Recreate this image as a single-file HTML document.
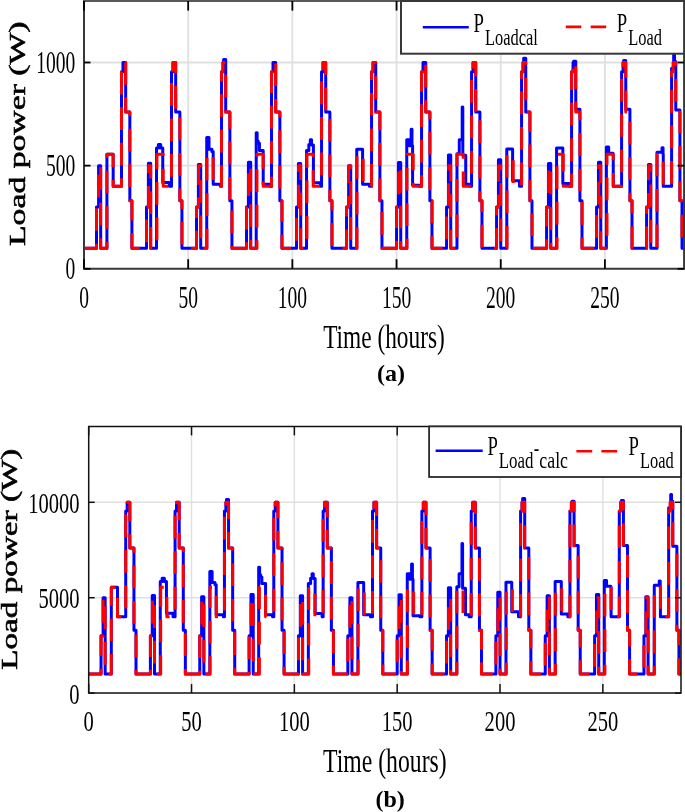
<!DOCTYPE html>
<html><head><meta charset="utf-8"><style>
html,body{margin:0;padding:0;background:#fff;}
svg{display:block;font-family:"Liberation Serif",serif;}
text{filter:grayscale(1);}
</style></head><body>
<svg width="685" height="812" viewBox="0 0 685 812">
<rect width="685" height="812" fill="#fff"/>
<g stroke="#e0e0e0" stroke-width="1.8"><line x1="188.18" y1="1.0" x2="188.18" y2="268.8"/><line x1="292.37" y1="1.0" x2="292.37" y2="268.8"/><line x1="396.55" y1="1.0" x2="396.55" y2="268.8"/><line x1="500.74" y1="1.0" x2="500.74" y2="268.8"/><line x1="604.92" y1="1.0" x2="604.92" y2="268.8"/><line x1="84" y1="165.65" x2="684.1" y2="165.65"/><line x1="84" y1="62.50" x2="684.1" y2="62.50"/></g>
<path d="M84.00,248.17H96.50V206.91H98.59V165.65H100.67V248.17H106.92V154.30H113.17V186.28H121.51V71.78H122.96V62.50H125.67V112.01H129.84V200.72H131.92V248.17H146.51V206.91H148.39V163.17H150.68V248.17H156.51V148.11H158.39V144.61H160.68V148.11H162.76V182.57H169.43V186.28H171.51V71.78H172.97V62.50H175.68V112.01H179.85V200.72H181.93V248.17H196.52V206.91H198.39V164.62H200.69V248.17H206.73V137.39H209.02V149.15H211.94V151.62H213.19V184.22H220.48V186.28H221.52V71.78H222.98V62.50H223.61V59.41H225.69V112.01H229.86V200.72H231.94V248.17H246.53V206.91H248.40V162.14H250.69V248.17H256.22V132.85H257.15V140.89H258.20V143.37H259.45V150.38H263.20V184.22H270.28V186.28H271.53V71.78H272.99V62.50H275.70V112.01H279.87V200.72H281.95V248.17H296.54V206.91H298.41V163.59H300.70V248.17H306.54V150.38H308.83V144.61H310.29V139.86H311.54V145.02H313.41V182.77H320.50V186.28H321.54V71.78H323.00V62.50H325.71V112.01H329.87V200.72H331.96V248.17H346.54V206.91H348.63V165.65H350.71V248.17H356.75V149.15H362.59V184.22H369.46V186.28H371.55V71.78H373.01V62.50H375.72V112.01H379.88V200.72H381.97V248.17H396.55V206.91H398.43V162.56H400.72V248.17H406.76V139.66H409.47V145.64H411.14V129.13H411.97V145.64H412.60V185.25H419.47V186.28H421.56V71.78H423.01V62.50H425.72V112.01H429.89V200.72H431.97V248.17H446.56V206.91H448.44V154.92H450.73V248.17H456.98V153.68H459.27V139.66H462.19V107.06H462.81V155.34H465.73V184.22H469.48V186.28H471.56V71.78H473.02V62.50H475.73V112.01H479.90V200.72H481.98V248.17H496.57V206.91H498.44V159.67H500.74V248.17H506.78V148.94H512.61V180.71H519.49V186.28H521.57V71.78H523.03V62.50H523.66V58.37H525.74V112.01H529.91V200.72H531.99V248.17H546.58V206.91H548.45V163.59H550.74V248.17H556.58V148.11H562.83V183.39H569.50V186.28H571.58V71.78H573.04V62.50H573.66V61.26H575.75V109.33H579.92V200.72H582.00V248.17H596.59V206.91H598.46V162.14H600.75V248.17H606.38V147.08H608.67V153.27H613.05V154.30H613.25V186.28H621.59V71.78H623.05V62.50H623.67V60.44H625.76V109.33H629.92V200.72H632.01V248.17H646.59V206.91H648.47V164.62H650.76V248.17H657.01V152.24H662.01V147.70H663.05V154.30H663.26V186.28H671.60V68.28H673.68V54.04H674.52V61.47H675.77V109.95H679.93V200.72H682.02V248.17H684.10" fill="none" stroke="#0000ff" stroke-width="3" stroke-linejoin="round"/>
<path d="M84.00,248.17H96.50V206.91H98.59V165.65H100.67V248.17H106.92V154.30H113.17V186.28H121.51V71.78H122.96V62.50H125.67V112.01H129.84V200.72H131.92V248.17H146.51V206.91H148.59V165.65H150.68V248.17H156.93V154.30H163.18V186.28H171.51V71.78H172.97V62.50H175.68V112.01H179.85V200.72H181.93V248.17H196.52V206.91H198.60V165.65H200.69V248.17H206.94V154.30H213.19V186.28H221.52V71.78H222.98V62.50H225.69V112.01H229.86V200.72H231.94V248.17H246.53V206.91H248.61V165.65H250.69V248.17H256.95V154.30H263.20V186.28H271.53V71.78H272.99V62.50H275.70V112.01H279.87V200.72H281.95V248.17H296.54V206.91H298.62V165.65H300.70V248.17H306.95V154.30H313.20V186.28H321.54V71.78H323.00V62.50H325.71V112.01H329.87V200.72H331.96V248.17H346.54V206.91H348.63V165.65H350.71V248.17H356.96V154.30H363.21V186.28H371.55V71.78H373.01V62.50H375.72V112.01H379.88V200.72H381.97V248.17H396.55V206.91H398.64V165.65H400.72V248.17H406.97V154.30H413.22V186.28H421.56V71.78H423.01V62.50H425.72V112.01H429.89V200.72H431.97V248.17H446.56V206.91H448.64V165.65H450.73V248.17H456.98V154.30H463.23V186.28H471.56V71.78H473.02V62.50H475.73V112.01H479.90V200.72H481.98V248.17H496.57V206.91H498.65V165.65H500.74V248.17H506.99V154.30H513.24V186.28H521.57V71.78H523.03V62.50H525.74V112.01H529.91V200.72H531.99V248.17H546.58V206.91H548.66V165.65H550.74V248.17H557.00V154.30H563.25V186.28H571.58V71.78H573.04V62.50H575.75V112.01H579.92V200.72H582.00V248.17H596.59V206.91H598.67V165.65H600.75V248.17H607.00V154.30H613.25V186.28H621.59V71.78H623.05V62.50H625.76V112.01H629.92V200.72H632.01V248.17H646.59V206.91H648.68V165.65H650.76V248.17H657.01V154.30H663.26V186.28H671.60V71.78H673.06V62.50H675.77V112.01H679.93V200.72H682.02V248.17H684.10" fill="none" stroke="#ff0000" stroke-width="3" stroke-linejoin="round" stroke-dasharray="22.7 12.8" stroke-dashoffset="5.7"/>
<path d="M84,1.0V268.8H684.1V1.0" fill="none" stroke="#383838" stroke-width="2"/>
<line x1="83.0" y1="1.0" x2="685.1" y2="1.0" stroke="#5a5a5a" stroke-width="2"/>
<g stroke="#000" stroke-width="1.8"><line x1="84.00" y1="268.8" x2="84.00" y2="259.2"/><line x1="84.00" y1="1.0" x2="84.00" y2="10.6"/><line x1="188.18" y1="268.8" x2="188.18" y2="259.2"/><line x1="188.18" y1="1.0" x2="188.18" y2="10.6"/><line x1="292.37" y1="268.8" x2="292.37" y2="259.2"/><line x1="292.37" y1="1.0" x2="292.37" y2="10.6"/><line x1="396.55" y1="268.8" x2="396.55" y2="259.2"/><line x1="396.55" y1="1.0" x2="396.55" y2="10.6"/><line x1="500.74" y1="268.8" x2="500.74" y2="259.2"/><line x1="500.74" y1="1.0" x2="500.74" y2="10.6"/><line x1="604.92" y1="268.8" x2="604.92" y2="259.2"/><line x1="604.92" y1="1.0" x2="604.92" y2="10.6"/><line x1="84" y1="268.80" x2="90.5" y2="268.80"/><line x1="684.1" y1="268.80" x2="677.6" y2="268.80"/><line x1="84" y1="165.65" x2="90.5" y2="165.65"/><line x1="684.1" y1="165.65" x2="677.6" y2="165.65"/><line x1="84" y1="62.50" x2="90.5" y2="62.50"/><line x1="684.1" y1="62.50" x2="677.6" y2="62.50"/></g>
<text transform="translate(84.00,307.6) scale(0.64,1)" text-anchor="middle" font-size="30.5">0</text>
<text transform="translate(188.18,307.6) scale(0.64,1)" text-anchor="middle" font-size="30.5">50</text>
<text transform="translate(292.37,307.6) scale(0.64,1)" text-anchor="middle" font-size="30.5">100</text>
<text transform="translate(396.55,307.6) scale(0.64,1)" text-anchor="middle" font-size="30.5">150</text>
<text transform="translate(500.74,307.6) scale(0.64,1)" text-anchor="middle" font-size="30.5">200</text>
<text transform="translate(604.92,307.6) scale(0.64,1)" text-anchor="middle" font-size="30.5">250</text>
<text transform="translate(75.3,279.20) scale(0.64,1)" text-anchor="end" font-size="30.5">0</text>
<text transform="translate(75.3,176.05) scale(0.64,1)" text-anchor="end" font-size="30.5">500</text>
<text transform="translate(75.3,72.90) scale(0.64,1)" text-anchor="end" font-size="30.5">1000</text>
<g stroke="#e0e0e0" stroke-width="1.4"><line x1="191.53" y1="426.4" x2="191.53" y2="693.1"/><line x1="294.36" y1="426.4" x2="294.36" y2="693.1"/><line x1="397.19" y1="426.4" x2="397.19" y2="693.1"/><line x1="500.02" y1="426.4" x2="500.02" y2="693.1"/><line x1="602.85" y1="426.4" x2="602.85" y2="693.1"/><line x1="88.7" y1="597.70" x2="681" y2="597.70"/><line x1="88.7" y1="502.30" x2="681" y2="502.30"/></g>
<path d="M88.70,674.02H101.04V635.86H103.10V597.70H105.15V674.02H111.32V587.21H117.49V616.78H125.72V510.89H127.16V502.30H129.83V548.09H133.95V630.14H136.00V674.02H150.40V635.86H152.25V595.41H154.51V674.02H160.27V581.48H162.12V578.24H164.38V581.48H166.44V613.35H173.02V616.78H175.08V510.89H176.52V502.30H179.19V548.09H183.30V630.14H185.36V674.02H199.76V635.86H201.61V596.75H203.87V674.02H209.83V571.56H212.10V582.44H214.98V584.73H216.21V614.87H223.41V616.78H224.44V510.89H225.88V502.30H226.49V499.44H228.55V548.09H232.66V630.14H234.72V674.02H249.11V635.86H250.97V594.46H253.23V674.02H258.68V567.36H259.60V574.80H260.63V577.09H261.87V583.58H265.57V614.87H272.56V616.78H273.79V510.89H275.23V502.30H277.91V548.09H282.02V630.14H284.08V674.02H298.47V635.86H300.32V595.79H302.59V674.02H308.34V583.58H310.61V578.24H312.05V573.85H313.28V578.62H315.13V613.54H322.12V616.78H323.15V510.89H324.59V502.30H327.27V548.09H331.38V630.14H333.44V674.02H347.83V635.86H349.89V597.70H351.94V674.02H357.91V582.44H363.67V614.87H370.45V616.78H372.51V510.89H373.95V502.30H376.62V548.09H380.74V630.14H382.79V674.02H397.19V635.86H399.04V594.84H401.30V674.02H407.27V573.66H409.94V579.19H411.59V563.93H412.41V579.19H413.03V615.83H419.81V616.78H421.87V510.89H423.31V502.30H425.98V548.09H430.10V630.14H432.15V674.02H446.55V635.86H448.40V587.78H450.66V674.02H456.83V586.63H459.09V573.66H461.97V543.51H462.59V588.16H465.47V614.87H469.17V616.78H471.23V510.89H472.67V502.30H475.34V548.09H479.45V630.14H481.51V674.02H495.91V635.86H497.76V592.17H500.02V674.02H505.98V582.25H511.74V611.63H518.53V616.78H520.59V510.89H522.03V502.30H522.64V498.48H524.70V548.09H528.81V630.14H530.87V674.02H545.26V635.86H547.12V595.79H549.38V674.02H555.14V581.48H561.31V614.11H567.89V616.78H569.94V510.89H571.38V502.30H572.00V501.16H574.06V545.61H578.17V630.14H580.23V674.02H594.62V635.86H596.47V594.46H598.74V674.02H604.29V580.53H606.55V586.25H610.87V587.21H611.08V616.78H619.30V510.89H620.74V502.30H621.36V500.39H623.42V545.61H627.53V630.14H629.59V674.02H643.98V635.86H645.83V596.75H648.09V674.02H654.26V585.30H659.20V581.10H660.23V587.21H660.43V616.78H668.66V507.64H670.72V494.48H671.54V501.35H672.77V546.18H676.89V630.14H678.94V674.02H681.00" fill="none" stroke="#0000ff" stroke-width="3" stroke-linejoin="round"/>
<path d="M88.70,674.02H101.04V635.86H103.10V597.70H105.15V674.02H111.32V587.21H117.49V616.78H125.72V510.89H127.16V502.30H129.83V548.09H133.95V630.14H136.00V674.02H150.40V635.86H152.45V597.70H154.51V674.02H160.68V587.21H166.85V616.78H175.08V510.89H176.52V502.30H179.19V548.09H183.30V630.14H185.36V674.02H199.76V635.86H201.81V597.70H203.87V674.02H210.04V587.21H216.21V616.78H224.44V510.89H225.88V502.30H228.55V548.09H232.66V630.14H234.72V674.02H249.11V635.86H251.17V597.70H253.23V674.02H259.40V587.21H265.57V616.78H273.79V510.89H275.23V502.30H277.91V548.09H282.02V630.14H284.08V674.02H298.47V635.86H300.53V597.70H302.59V674.02H308.76V587.21H314.93V616.78H323.15V510.89H324.59V502.30H327.27V548.09H331.38V630.14H333.44V674.02H347.83V635.86H349.89V597.70H351.94V674.02H358.11V587.21H364.28V616.78H372.51V510.89H373.95V502.30H376.62V548.09H380.74V630.14H382.79V674.02H397.19V635.86H399.25V597.70H401.30V674.02H407.47V587.21H413.64V616.78H421.87V510.89H423.31V502.30H425.98V548.09H430.10V630.14H432.15V674.02H446.55V635.86H448.60V597.70H450.66V674.02H456.83V587.21H463.00V616.78H471.23V510.89H472.67V502.30H475.34V548.09H479.45V630.14H481.51V674.02H495.91V635.86H497.96V597.70H500.02V674.02H506.19V587.21H512.36V616.78H520.59V510.89H522.03V502.30H524.70V548.09H528.81V630.14H530.87V674.02H545.26V635.86H547.32V597.70H549.38V674.02H555.55V587.21H561.72V616.78H569.94V510.89H571.38V502.30H574.06V548.09H578.17V630.14H580.23V674.02H594.62V635.86H596.68V597.70H598.74V674.02H604.91V587.21H611.08V616.78H619.30V510.89H620.74V502.30H623.42V548.09H627.53V630.14H629.59V674.02H643.98V635.86H646.04V597.70H648.09V674.02H654.26V587.21H660.43V616.78H668.66V510.89H670.10V502.30H672.77V548.09H676.89V630.14H678.94V674.02H681.00" fill="none" stroke="#ff0000" stroke-width="3" stroke-linejoin="round" stroke-dasharray="22.7 12.8" stroke-dashoffset="5"/>
<path d="M88.7,426.4V693.1H681V426.4" fill="none" stroke="#111" stroke-width="1.5"/>
<line x1="87.95" y1="426.4" x2="681.75" y2="426.4" stroke="#111" stroke-width="1.5"/>
<g stroke="#111" stroke-width="1.5"><line x1="88.70" y1="693.1" x2="88.70" y2="684.1"/><line x1="88.70" y1="426.4" x2="88.70" y2="435.4"/><line x1="191.53" y1="693.1" x2="191.53" y2="684.1"/><line x1="191.53" y1="426.4" x2="191.53" y2="435.4"/><line x1="294.36" y1="693.1" x2="294.36" y2="684.1"/><line x1="294.36" y1="426.4" x2="294.36" y2="435.4"/><line x1="397.19" y1="693.1" x2="397.19" y2="684.1"/><line x1="397.19" y1="426.4" x2="397.19" y2="435.4"/><line x1="500.02" y1="693.1" x2="500.02" y2="684.1"/><line x1="500.02" y1="426.4" x2="500.02" y2="435.4"/><line x1="602.85" y1="693.1" x2="602.85" y2="684.1"/><line x1="602.85" y1="426.4" x2="602.85" y2="435.4"/><line x1="88.7" y1="693.10" x2="94.7" y2="693.10"/><line x1="681" y1="693.10" x2="675" y2="693.10"/><line x1="88.7" y1="597.70" x2="94.7" y2="597.70"/><line x1="681" y1="597.70" x2="675" y2="597.70"/><line x1="88.7" y1="502.30" x2="94.7" y2="502.30"/><line x1="681" y1="502.30" x2="675" y2="502.30"/></g>
<text transform="translate(88.70,731.3) scale(0.685,1)" text-anchor="middle" font-size="30">0</text>
<text transform="translate(191.53,731.3) scale(0.685,1)" text-anchor="middle" font-size="30">50</text>
<text transform="translate(294.36,731.3) scale(0.685,1)" text-anchor="middle" font-size="30">100</text>
<text transform="translate(397.19,731.3) scale(0.685,1)" text-anchor="middle" font-size="30">150</text>
<text transform="translate(500.02,731.3) scale(0.685,1)" text-anchor="middle" font-size="30">200</text>
<text transform="translate(602.85,731.3) scale(0.685,1)" text-anchor="middle" font-size="30">250</text>
<text transform="translate(79.6,703.50) scale(0.685,1)" text-anchor="end" font-size="30">0</text>
<text transform="translate(79.6,608.10) scale(0.685,1)" text-anchor="end" font-size="30">5000</text>
<text transform="translate(79.6,512.70) scale(0.685,1)" text-anchor="end" font-size="30">10000</text>
<!-- legend a -->
<rect x="401" y="1" width="283.1" height="52.7" fill="#fff" stroke="#383838" stroke-width="2"/>
<line x1="422.8" y1="27.2" x2="468.8" y2="27.2" stroke="#0000ff" stroke-width="2.6"/>
<line x1="565.8" y1="26.9" x2="606.7" y2="26.9" stroke="#ff0000" stroke-width="2.6" stroke-dasharray="15.5 9.4"/>
<text transform="translate(473.4,31.7) scale(0.68,1)" font-size="27.5">P</text>
<text transform="translate(485,45.4) scale(0.70,1)" font-size="23.5">Loadcal</text>
<text transform="translate(616.8,31.7) scale(0.68,1)" font-size="27.5">P</text>
<text transform="translate(628.2,45.4) scale(0.70,1)" font-size="23.5">Load</text>
<!-- legend b -->
<rect x="429.1" y="426.4" width="251.9" height="50.6" fill="#fff" stroke="#2a2a2a" stroke-width="1.8"/>
<line x1="435.6" y1="450.8" x2="482.7" y2="450.8" stroke="#0000ff" stroke-width="2.6"/>
<line x1="576.4" y1="451.2" x2="617.9" y2="451.2" stroke="#ff0000" stroke-width="2.6" stroke-dasharray="15.8 9.2"/>
<text transform="translate(487.5,454.5) scale(0.68,1)" font-size="27.5">P</text>
<text transform="translate(498.7,468.2) scale(0.72,1)" font-size="23.5">Load</text>
<text transform="translate(533.8,455.7) scale(0.70,1)" font-size="23.5">-</text>
<text transform="translate(539.3,468.2) scale(0.76,1)" font-size="23.5">calc</text>
<text transform="translate(628.4,454.5) scale(0.68,1)" font-size="27.5">P</text>
<text transform="translate(640,468.2) scale(0.70,1)" font-size="23.5">Load</text>
<!-- axis labels -->
<text transform="translate(24.9,246) rotate(-90) scale(1,0.71)" font-size="33.7" stroke="#000" stroke-width="0.8">Load power (W)</text>
<text transform="translate(17,669.8) rotate(-90) scale(1,0.71)" font-size="33.2" stroke="#000" stroke-width="0.8">Load power (W)</text>
<text transform="translate(384,347.6) scale(0.695,1)" text-anchor="middle" font-size="33.6">Time (hours)</text>
<text transform="translate(384.9,771.8) scale(0.706,1)" text-anchor="middle" font-size="33.6">Time (hours)</text>
<text x="391" y="380.5" text-anchor="middle" font-size="24" font-weight="bold">(a)</text>
<text x="390.2" y="807" text-anchor="middle" font-size="24" font-weight="bold">(b)</text>
</svg>
</body></html>
